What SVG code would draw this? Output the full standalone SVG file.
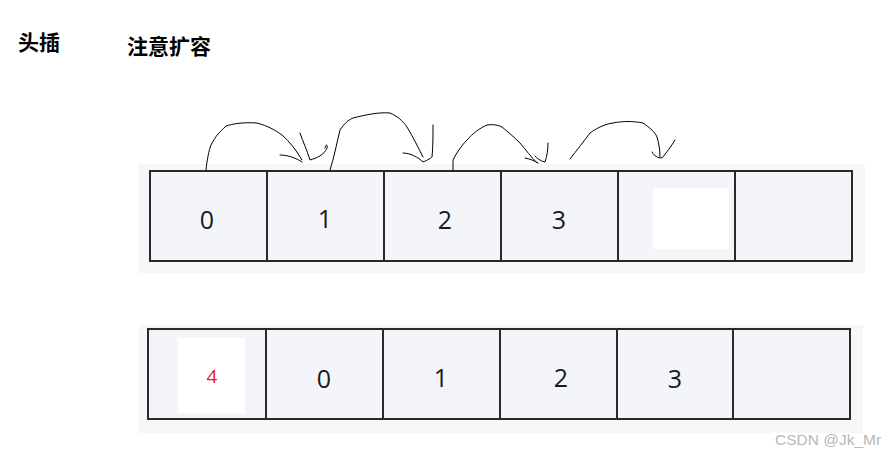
<svg xmlns="http://www.w3.org/2000/svg" width="885" height="454" viewBox="0 0 885 454">
<style>
.title{font-family:"Noto Sans CJK SC","Liberation Sans",sans-serif;font-weight:bold;font-size:21px;fill:#000}
.bg{fill:#f7f7f9}
.cell{fill:#f4f5f8;stroke:#2a2a2a;stroke-width:2}
.hole{fill:#ffffff}
.num{font-family:"Open Sans","Noto Sans",sans-serif;font-size:25px;fill:#1a1a1a;text-anchor:middle}
.red{fill:#e8202a;font-size:19px}
.ink{fill:none;stroke:#000;stroke-width:1;stroke-linecap:round;stroke-linejoin:round}
.wm{font-family:"Liberation Sans",Arial,sans-serif;font-size:15.5px;fill:#b8b8b8}
</style>
<rect width="885" height="454" fill="#ffffff"/>
<text class="title" x="18" y="50">头插</text>
<text class="title" x="127" y="54">注意扩容</text>

<g id="array-before">
<rect class="bg" x="138" y="164" width="727" height="109"/>
<g id="b0"><rect class="cell" x="150" y="171" width="117" height="90"/><text class="num" x="207" y="229">0</text></g>
<g id="b1"><rect class="cell" x="267" y="171" width="117" height="90"/><text class="num" x="325" y="228">1</text></g>
<g id="b2"><rect class="cell" x="384" y="171" width="117" height="90"/><text class="num" x="445" y="229">2</text></g>
<g id="b3"><rect class="cell" x="501" y="171" width="117" height="90"/><text class="num" x="559" y="229">3</text></g>
<g id="b4"><rect class="cell" x="618" y="171" width="117" height="90"/><rect class="hole" x="653" y="188" width="76" height="61"/></g>
<g id="b5"><rect class="cell" x="735" y="171" width="117" height="90"/></g>
</g>

<g id="array-after">
<rect class="bg" x="138" y="325" width="725" height="108"/>
<g id="a0"><rect class="cell" x="148" y="329" width="118" height="90"/><rect class="hole" x="178" y="338" width="67" height="75"/><text class="num red" x="212" y="383">4</text></g>
<g id="a1"><rect class="cell" x="266" y="329" width="117" height="90"/><text class="num" x="324" y="388">0</text></g>
<g id="a2"><rect class="cell" x="383" y="329" width="117" height="90"/><text class="num" x="441" y="387">1</text></g>
<g id="a3"><rect class="cell" x="500" y="329" width="117" height="90"/><text class="num" x="561" y="387">2</text></g>
<g id="a4"><rect class="cell" x="617" y="329" width="116" height="90"/><text class="num" x="675" y="388">3</text></g>
<g id="a5"><rect class="cell" x="733" y="329" width="117" height="90"/></g>
</g>

<g id="connectors">
<path class="ink" d="M206 170 C207 160 209 150 211 145 C216 135 220 132 226 126 C232 124 242 122 257 123 C268 126 275 130 282 135 C290 142 296 150 302 160"/>
<path class="ink" d="M280 155 C288 155 296 158 302 162 M300 133 C303 142 307 150 310 160 C317 158 324 155 327 148 C328 145 326 143 325 148"/>
<path class="ink" d="M330 170 C334 158 337 142 340 130 C344 124 348 120 353 118 C365 115 378 112 390 113 C397 116 402 120 407 127 C413 137 418 147 423 157"/>
<path class="ink" d="M403 153 C410 153 418 157 423 162 C428 160 431 158 432 157 C433 146 433 136 433 125"/>
<path class="ink" d="M453 171 L453 160 C457 152 462 145 467 140 C473 133 480 128 487 125 C493 124 498 125 502 127 C508 132 514 137 520 143 C526 150 531 157 537 163"/>
<path class="ink" d="M525 158 C530 159 535 161 538 163 M548 143 C548 150 547 156 545 162 C540 161 537 158 535 156"/>
<path class="ink" d="M570 159 C577 150 584 141 590 133 C597 128 605 124 613 123 C623 121 633 121 643 123 C650 128 655 132 657 137 C659 144 660 150 660 157"/>
<path class="ink" d="M652 152 C654 156 658 158 662 158 C666 153 671 147 675 140"/>
</g>

<text class="wm" x="775" y="445">CSDN @Jk_Mr</text>
</svg>
